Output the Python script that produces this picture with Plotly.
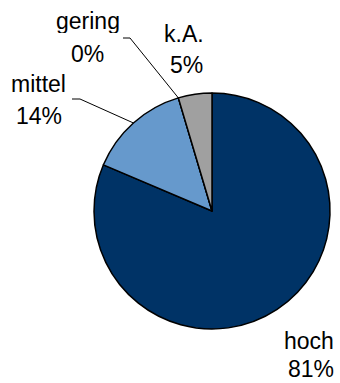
import math
import plotly.graph_objects as go

# ---- data ----
categories = ["hoch", "mittel", "gering", "k.A."]
values = [81.4, 14.0, 0.0, 4.6]
slice_colors = ["#003366", "#6699CC", "#FFFFFF", "#A0A0A0"]

W, H = 340, 383
CX, CY, R = 212, 211, 118  # pie centre / radius in pixels

fig = go.Figure(go.Pie(
    labels=categories,
    values=values,
    sort=False,
    direction="clockwise",
    rotation=0,
    textinfo="none",
    hoverinfo="label+percent",
    marker=dict(colors=slice_colors, line=dict(color="#000000", width=1.5)),
    domain=dict(x=[(CX - R) / W, (CX + R) / W], y=[(H - CY - R) / H, (H - CY + R) / H]),
    showlegend=False,
))

def px(x):
    return x / W

def py(y):
    return 1 - y / H

total = sum(values)
cum = 0.0
mids = {}
for c, v in zip(categories, values):
    mids[c] = (cum + v / 2) / total
    cum += v

def edge(frac):
    th = 2 * math.pi * frac
    return CX + R * math.sin(th), CY - R * math.cos(th)

FONT = dict(family="Liberation Sans, Arial, sans-serif", size=23, color="#000000")

# label layout (name line centre, percent line centre, in pixels)
label_pos = {
    "hoch": (309, 341, 311, 369),
    "mittel": (38, 84, 39, 116),
    "gering": (88, 21, 87, 54),
    "k.A.": (184, 34, 186, 65),
}
# leader lines: (start x, y, elbow x)
leaders = {
    "gering": (123, 38, 130),
    "mittel": (72, 99, 80),
}

annotations = []
for c, v in zip(categories, values):
    x1, y1, x2, y2 = label_pos[c]
    annotations.append(dict(x=px(x1), y=py(y1), xref="paper", yref="paper", text=c,
                            showarrow=False, font=FONT, xanchor="center", yanchor="middle",
                            height=24, valign="middle"))
    annotations.append(dict(x=px(x2), y=py(y2), xref="paper", yref="paper",
                            text=f"{round(v / total * 100)}%",
                            showarrow=False, font=FONT, xanchor="center", yanchor="middle",
                            height=24, valign="middle"))

shapes = []
for c, (sx, sy, ex) in leaders.items():
    exx, eyy = edge(mids[c])
    path = f"M {px(sx)},{py(sy)} L {px(ex)},{py(sy)} L {px(exx)},{py(eyy)}"
    shapes.append(dict(type="path", xref="paper", yref="paper", path=path,
                       line=dict(color="#000000", width=1)))

fig.update_layout(
    width=W, height=H,
    margin=dict(l=0, r=0, t=0, b=0),
    paper_bgcolor="#FFFFFF",
    plot_bgcolor="#FFFFFF",
    annotations=annotations,
    shapes=shapes,
)

fig.write_html("out.html")
